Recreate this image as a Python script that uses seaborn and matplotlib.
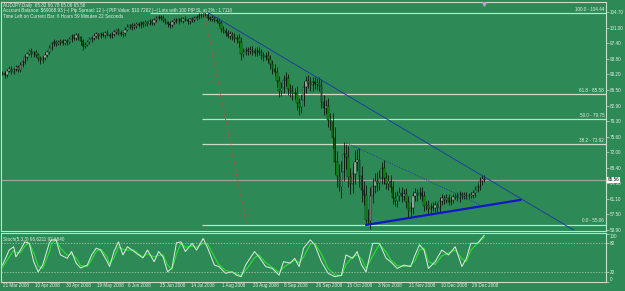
# AUDJPY 日足チャート（MT4風）再現
import numpy as np
import pandas as pd
import matplotlib
matplotlib.use("Agg")
import matplotlib.pyplot as plt
import matplotlib.transforms as mtrans
import seaborn as sns

# 終値（0 = 21 Mar 2008, 1本 = 1営業日）
closes = [
    90.4, 90.0, 91.0, 91.5, 90.8, 91.3, 91.9, 91.2, 92.4, 93.1,
    94.2, 95.0, 95.6, 94.8, 95.3, 94.6, 94.0, 93.4, 93.9, 94.7,
    95.4, 96.3, 97.4, 97.8, 97.3, 97.6, 98.0, 97.5, 97.9, 97.6,
    98.3, 99.1, 98.6, 99.3, 98.8, 97.9, 96.8, 97.1, 97.8, 98.3,
    98.6, 99.2, 99.5, 99.0, 99.6, 99.3, 99.8, 99.4, 99.1, 99.6,
    100.1, 100.4, 99.9, 99.5, 99.7, 100.6, 101.3, 101.6, 101.2, 101.5,
    101.9, 101.6, 102.1, 101.8, 102.3, 102.0, 102.5, 102.2, 102.8, 103.2,
    103.6, 103.4, 102.8, 102.3, 101.9, 101.7, 102.4, 102.8, 102.6, 103.0,
    102.7, 103.1, 102.9, 102.5, 103.0, 102.8, 103.2, 103.6, 103.9, 104.1,
    104.3, 104.0, 103.4, 103.1, 103.3, 102.9, 102.6, 102.1, 100.8, 100.3,
    99.8, 99.2, 99.5, 98.8, 98.4, 98.7, 97.6, 95.0, 95.4, 95.8,
    95.5, 95.9, 95.6, 95.2, 95.7, 95.3, 94.6, 94.1, 94.5, 93.8,
    92.6, 91.4, 90.8, 88.5, 86.4, 86.9, 88.8, 89.2, 86.8, 86.2,
    85.7, 85.9, 83.4, 82.6, 84.1, 87.2, 88.6, 88.1, 87.6, 88.3,
    87.9, 88.2, 87.4, 83.8, 82.4, 82.9, 79.6, 79.0, 75.4, 69.8,
    66.5, 63.8, 67.4, 71.5, 70.8, 66.2, 64.7, 66.9, 69.8, 70.3,
    66.4, 63.1, 62.0, 56.3, 55.9, 61.8, 64.2, 65.3, 64.8, 66.1,
    68.4, 66.0, 64.7, 65.2, 63.9, 61.4, 60.6, 61.8, 62.5, 61.9,
    62.3, 60.4, 58.2, 58.9, 61.7, 62.4, 62.0, 62.6, 61.9, 59.4,
    59.7, 58.8, 59.3, 59.0, 59.6, 58.9, 60.7, 61.3, 60.9, 61.4,
    60.5, 60.9, 61.6, 61.8, 61.3, 62.2, 61.8, 62.0, 61.7, 61.9,
    62.1, 62.4, 63.3, 63.9, 65.2, 65.82, 65.56,
]

# ヒゲの長さ（実体から）
upper_wicks = [
    .5, .6, .4, .5, .6, .3, .5, .4, .6, .5,
    .6, .4, .5, .7, .4, .5, .6, .4, .5, .6,
    .5, .6, .4, .5, .3, .6, .4, .5, .4, .5,
    .6, .5, .4, .6, .5, .4, .5, .6, .4, .5,
    .4, .5, .6, .4, .5, .4, .5, .6, .4, .5,
    .5, .4, .6, .5, .4, .6, .5, .4, .5, .6,
    .4, .5, .4, .6, .5, .4, .5, .6, .4, .5,
    .5, .4, .6, .5, .4, .6, .5, .4, .5, .4,
    .5, .4, .6, .5, .4, .5, .6, .4, .5, .3,
    .14, .1, .5, .4, .6, .5, .7, .6, .8, .7,
    .6, .8, .7, .6, .9, .7, .8, 1.2, .9, .8,
    .7, .9, .8, .7, .8, .9, .7, .8, .9, 1.0,
    .9, 1.0, 1.2, 1.1, 1.3, 1.5, 1.2, 1.4, 1.1, 1.2,
    1.4, 1.2, 1.5, 1.3, 1.6, 1.4, 1.2, 1.3, 1.5, 1.2,
    1.3, 1.1, 1.4, 1.6, 1.5, 1.3, 1.8, 1.6, 2.2, 2.6,
    2.4, 2.8, 2.5, 2.9, 2.4, 2.6, 2.2, 2.5, 2.8, 2.4,
    2.6, 2.3, 2.1, 2.4, 2.5, 2.0, 1.8, 1.9, 2.2, 1.7,
    1.3, 1.8, 1.5, 1.6, 1.4, 1.5, 1.3, 1.2, 1.4, 1.3,
    1.2, 1.4, 1.3, 1.5, 1.2, 1.3, 1.1, 1.2, 1.3, 1.1,
    1.0, 1.2, .9, 1.1, 1.0, .8, .9, 1.0, .8, .9,
    .8, .9, .7, .8, .9, .7, .6, .8, .7, .6,
    .7, .8, .9, .8, 1.0, .9, .96,
]
lower_wicks = [
    .4, .7, .5, .4, .5, .6, .4, .5, .4, .6,
    .5, .6, .4, .5, .6, .4, .7, .9, .5, .4,
    .6, .5, .4, .6, .5, .4, .6, .5, .4, .5,
    .4, .6, .5, .4, .6, .8, .9, .5, .4, .6,
    .5, .4, .6, .5, .4, .5, .6, .4, .5, .4,
    .4, .5, .6, .4, .7, .5, .4, .5, .6, .4,
    .5, .4, .6, .5, .4, .5, .4, .6, .5, .4,
    .4, .6, .5, .4, .6, .7, .4, .5, .4, .6,
    .4, .5, .4, .6, .5, .4, .5, .4, .6, .5,
    .5, .4, .6, .5, .4, .6, .5, .7, .8, .6,
    .7, .6, .8, .7, .6, .9, 1.0, 1.5, .8, .7,
    .8, .7, .9, .8, .7, .6, .9, .8, .7, .9,
    1.1, 1.2, 1.0, 1.3, 1.6, 1.2, 1.1, 1.3, 1.4, 1.2,
    1.5, 1.3, 1.6, 1.9, 1.4, 1.2, 1.3, 1.1, 1.4, 1.2,
    1.2, 1.3, 1.1, 1.5, 1.7, 1.4, 1.6, 1.8, 2.4, 2.8,
    2.6, .8, 2.4, 2.2, 2.6, 2.3, 2.5, 2.1, 2.4, 2.2,
    2.4, 2.6, 2.3, 1.24, .8, 1.9, 1.7, 1.6, 1.8, 1.5,
    1.4, 1.5, 1.3, 1.4, 1.2, 1.4, 1.1, 1.3, 1.2, 1.4,
    1.1, 1.3, 1.2, 1.0, 1.2, 1.1, 1.3, 1.0, 1.2, 1.1,
    .9, 1.1, 1.0, .8, 1.0, .9, .8, .9, 1.0, .8,
    .9, .7, .8, .6, .7, .8, .6, .7, .5, .6,
    .6, .7, .8, .6, .7, .8, .5,
]

price_ticks = [104.70, 101.00, 97.40, 93.80, 90.20, 86.50, 82.90, 79.30,
               75.60, 72.00, 68.40, 64.80, 61.10, 57.50, 53.90]
date_bars = [0, 14, 28, 42, 56, 70, 84, 98, 112, 126, 140, 154, 168, 182, 196, 210]
date_labels = ["21 Mar 2008", "10 Apr 2008", "30 Apr 2008", "19 May 2008", "6 Jun 2008",
               "25 Jun 2008", "14 Jul 2008", "1 Aug 2008", "20 Aug 2008", "8 Sep 2008",
               "26 Sep 2008", "15 Oct 2008", "3 Nov 2008", "21 Nov 2008", "10 Dec 2008",
               "29 Dec 2008"]
fib_levels = ["100.0", "61.8", "50.0", "38.2", "0.0"]
fib_prices = [104.44, 85.58, 79.75, 73.92, 55.06]
last_price = 65.56

# ストキャスティクス（5,3,3）
stoch_bars = [0, 3, 5, 6, 8, 10, 12, 14, 16, 18,
              21, 22, 24, 26, 29, 31, 33, 35, 38, 40,
              42, 44, 47, 48, 50, 52, 54, 56, 59, 61,
              63, 65, 68, 70, 72, 74, 76, 78, 80, 82,
              85, 87, 90, 92, 95, 97, 100, 103, 105, 107,
              109, 113, 115, 118, 121, 124, 126, 129, 131, 133,
              135, 138, 140, 143, 146, 149, 152, 154, 157, 159,
              161, 163, 166, 169, 172, 174, 177, 180, 183, 185,
              187, 189, 191, 194, 197, 200, 203, 206, 208, 210,
              213, 216]
stoch_k = [35, 66, 73, 52, 66, 83, 80, 42, 21, 35,
           81, 87, 87, 56, 49, 63, 39, 29, 35, 56,
           70, 66, 42, 32, 63, 83, 56, 73, 63, 56,
           50, 66, 42, 63, 52, 21, 29, 81, 83, 63,
           80, 66, 90, 70, 35, 32, 18, 21, 14, 11,
           35, 63, 52, 32, 28, 14, 42, 39, 49, 32,
           70, 87, 77, 42, 18, 11, 14, 56, 49, 63,
           35, 21, 80, 80, 49, 42, 28, 35, 32, 56,
           77, 66, 28, 42, 66, 56, 73, 32, 49, 80,
           80, 96.6]
stoch_d = [30, 52, 65, 62, 60, 74, 81, 60, 33, 28,
           62, 80, 87, 70, 55, 58, 50, 34, 32, 46,
           63, 68, 52, 38, 50, 72, 68, 66, 66, 58,
           52, 58, 52, 55, 56, 35, 26, 58, 80, 72,
           74, 72, 80, 78, 52, 36, 24, 20, 17, 13,
           24, 50, 56, 40, 30, 20, 30, 40, 45, 40,
           52, 78, 80, 58, 28, 15, 13, 36, 52, 56,
           48, 28, 54, 78, 62, 46, 34, 32, 34, 44,
           66, 70, 42, 36, 54, 60, 66, 48, 42, 66,
           80, 92.7]

BG = "#2d8a56"
FG = "#e4eee4"
LINE = "#c8dcc8"
FS = 3.3

sns.set_style("dark", {"axes.facecolor": BG, "figure.facecolor": BG})
plt.rcParams["font.family"] = ["Liberation Sans", "DejaVu Sans"]

df = pd.DataFrame({"close": closes, "up": upper_wicks, "dn": lower_wicks})
df["bar"] = np.arange(len(df))
df["open"] = df["close"].shift(1).fillna(df["close"].iloc[0])
df["top"] = df[["open", "close"]].max(axis=1)
df["bot"] = df[["open", "close"]].min(axis=1)
df["high"] = df["top"] + df["up"]
df["low"] = df["bot"] - df["dn"]
df["rise"] = df["close"] >= df["open"]

fig = plt.figure(figsize=(6.25, 2.91), dpi=100)
ax = fig.add_axes([0.002, 0.2062, 0.9676, 0.7869])
ax2 = fig.add_axes([0.002, 0.0309, 0.9676, 0.1684])
xlim = (-0.56, 270.6)

# ローソク足
ax.vlines(df["bar"], df["low"], df["high"], color="black", lw=0.5, zorder=3)
body_col = np.where(df["rise"], "#c4c8c4", "#12a012")
ax.bar(df["bar"], (df["top"] - df["bot"]).clip(lower=0.08), bottom=df["bot"], width=0.62,
       color=body_col, edgecolor="black", linewidth=0.3, zorder=4)

# フィボナッチ
for lvl, p in zip(fib_levels, fib_prices):
    start = 66 if lvl == "100.0" else 89.5
    ax.hlines(p, start, xlim[1], color=LINE, lw=0.9, zorder=2)
    ax.text(269.8, p + 0.35, f"{lvl} - {p:.2f}", color=FG, fontsize=FS, ha="right", va="bottom")

# 現在値ライン
ax.axhline(last_price, color="#9aa49a", lw=0.9, zorder=2)

# トレンドライン
ax.plot([92.4, 256], [104.47, 53.9], color="#1f3f9a", lw=0.7, zorder=5)
ax.plot([154.3, 213.9], [74.2, 59.8], color="#1f3f9a", lw=0.6, ls=(0, (1.5, 1.5)), zorder=5)
ax.plot([163, 232.3], [55.06, 60.9], color="#1414c8", lw=1.6, zorder=5)
ax.plot([90.5, 109.5], [104.44, 55.06], color="#c8483c", lw=0.7, ls=(0, (1.5, 1.5)), zorder=5)
ax.plot([216.1], [106.6], marker="v", ms=2.5, color="#a8a8c8", clip_on=False, zorder=6)

ax.set_xlim(*xlim)
ax.set_ylim(53.65, 107.03)
ax.yaxis.tick_right()
ax.set_yticks(price_ticks)
ax.set_yticklabels([f"{v:.2f}" for v in price_ticks])
ax.tick_params(axis="y", colors=LINE, labelcolor=FG, labelsize=FS, length=2, width=0.5, pad=1)
ax.set_xticks([])
for s in ax.spines.values():
    s.set_color(LINE)
    s.set_linewidth(0.8)

trans = mtrans.blended_transform_factory(ax.transAxes, ax.transData)
ax.text(1.003, last_price, f"{last_price:.2f}", transform=trans, fontsize=FS, color="black",
        va="center", ha="left", bbox=dict(boxstyle="square,pad=0.15", fc="white", ec="none"))

# ヘッダー
fig.text(0.005, 1 - 5 / 291, "AUDJPY,Daily  65.82 66.78 65.06 65.56", color=FG, fontsize=FS, va="center")
fig.text(0.005, 1 - 10.5 / 291,
         r"Account Balance: \$69068.93 |--| Pip Spread: 12 |--| PIP Value: \$10.7262 |--| "
         "Lots with 100 PIP SL at 2% : 1.7116", color=FG, fontsize=FS, va="center")
fig.text(0.005, 1 - 16 / 291, "Time Left on Current Bar: 6 Hours 59 Minutes 22 Seconds",
         color=FG, fontsize=FS, va="center")

# ストキャスティクス
sns.lineplot(x=stoch_bars, y=stoch_d, ax=ax2, color="#2ee02e", lw=0.8)
sns.lineplot(x=stoch_bars, y=stoch_k, ax=ax2, color="#dff0df", lw=0.7)
for lv in [80, 20]:
    ax2.axhline(lv, color="#b8ccb8", lw=0.5, ls=(0, (2, 2)))
ax2.set_xlim(*xlim)
ax2.set_ylim(0, 101.3)
ax2.yaxis.tick_right()
ax2.set_yticks([100, 80, 20, 0])
ax2.set_yticklabels(["100", "80", "20", "0"])
for lab, va in zip(ax2.get_yticklabels(), ["top", "center", "center", "bottom"]):
    lab.set_va(va)
ax2.tick_params(axis="y", colors=LINE, labelcolor=FG, labelsize=FS, length=2, width=0.5, pad=1)
ax2.set_xticks([b - 0.5 for b in date_bars])
ax2.set_xticklabels([])
ax2.tick_params(axis="x", colors=LINE, length=2, width=0.5)
ax2.set_xlabel("")
ax2.set_ylabel("")
for s in ax2.spines.values():
    s.set_color(LINE)
    s.set_linewidth(0.8)
ax2.text(0.003, 0.92, "Stoch(5,3,3) 96.6211 92.6640", transform=ax2.transAxes, color=FG,
         fontsize=FS, va="top")
xtrans = mtrans.blended_transform_factory(ax2.transData, ax2.transAxes)
for b, lab in zip(date_bars, date_labels):
    ax2.text(b + 0.4, -0.08, lab, transform=xtrans, color=FG, fontsize=FS, va="center", ha="left")

fig.savefig("out.png", dpi=100, facecolor=BG)
